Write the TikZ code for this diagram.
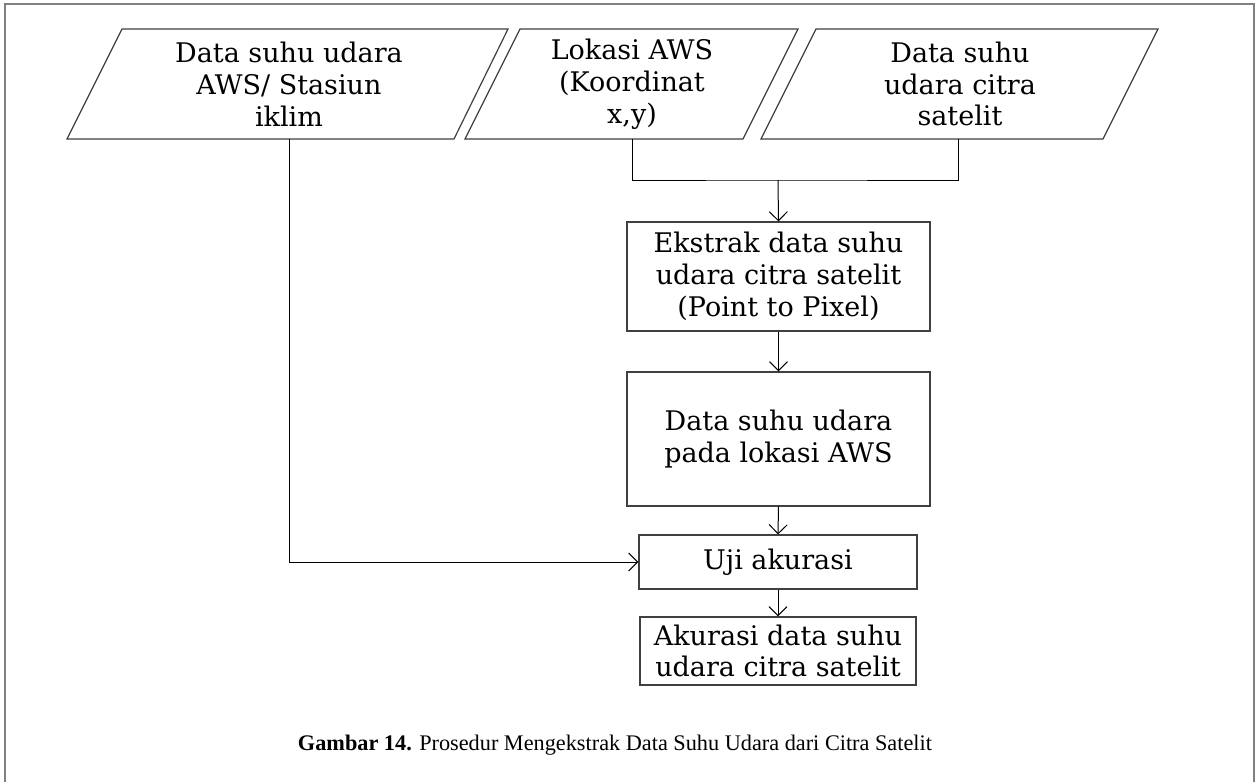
\documentclass[tikz,border=0pt]{standalone}
\usepackage{fontspec}
\usepackage{graphicx}
\setmainfont{DejaVu Serif}
\newfontfamily\capfont{Liberation Serif}
\usetikzlibrary{arrows.meta}
\definecolor{boxline}{HTML}{404040}
\definecolor{frameline}{HTML}{808080}
\tikzset{
  procbox/.style={draw=boxline, line width=0.6pt, align=center, inner sep=0pt,
    font=\fontsize{13.5}{15.9}\selectfont},
  paratext/.style={align=center, inner sep=0pt, font=\fontsize{13.5}{15.9}\selectfont},
  paraline/.style={draw=boxline, line width=0.6pt},
  conn/.style={draw=black, line width=0.5pt},
  arr/.style={conn, -{Straight Barb[length=4.5pt, width=9pt, line width=0.5pt]}}
}
\begin{document}
\begin{tikzpicture}[x=0.5pt, y=-0.5pt]
\useasboundingbox (0,0) rectangle (1255,782);
\fill[white] (0,0) rectangle (1255,782);
% frame
\draw[frameline, line width=1pt] (5,800) -- (5,4) -- (1254,4) -- (1254,800);

% parallelograms
\draw[paraline] (122,29) -- (508,29) -- (454,139) -- (67,139) -- cycle;
\draw[paraline] (520,29) -- (798,29) -- (743,139) -- (465,139) -- cycle;
\draw[paraline] (816,29) -- (1158,29) -- (1103,139) -- (761,139) -- cycle;

\node[paratext] (p1) at (289,84) {Data suhu udara\\AWS/ Stasiun\\iklim};
\node[paratext] (p2) at (632,84) {Lokasi AWS\\(Koordinat\\x,y)};
\node[paratext] (p3) at (960,84) {Data suhu\\udara citra\\satelit};

\coordinate (p1b) at (289,139);
\coordinate (p2b) at (632,139);
\coordinate (p3b) at (958,139);
\coordinate (j) at (778,180);

% process boxes
\node[procbox, minimum width=151.5pt, minimum height=54.5pt] (ek) at (778.5,276.5)
  {Ekstrak data suhu\\udara citra satelit\\(Point to Pixel)};
\node[procbox, minimum width=151.5pt, minimum height=67pt] (ds) at (778.5,439)
  {Data suhu udara\\pada lokasi AWS};
\node[procbox, minimum width=139pt, minimum height=27pt] (uji) at (778,562)
  {Uji akurasi};
\node[procbox, minimum width=138pt, minimum height=34pt] (ak) at (778,651)
  {Akurasi data suhu\\udara citra satelit};

% connectors
\draw[conn] (p2b) |- (j) -| (p3b);
\draw[arr] (j) -- (ek.north);
\draw[arr] (ek.south) -- (ds.north);
\draw[arr] (ds.south) -- (uji.north);
\draw[arr] (uji.south) -- (ak.north);
\draw[arr] (p1b) |- (uji.west);

% caption
\node[inner sep=0pt] (cap) at (615,745)
  {\resizebox{317pt}{!}{\capfont\fontsize{11}{13}\selectfont\textbf{Gambar 14.} Prosedur Mengekstrak Data Suhu Udara dari Citra Satelit}};
\end{tikzpicture}
\end{document}
